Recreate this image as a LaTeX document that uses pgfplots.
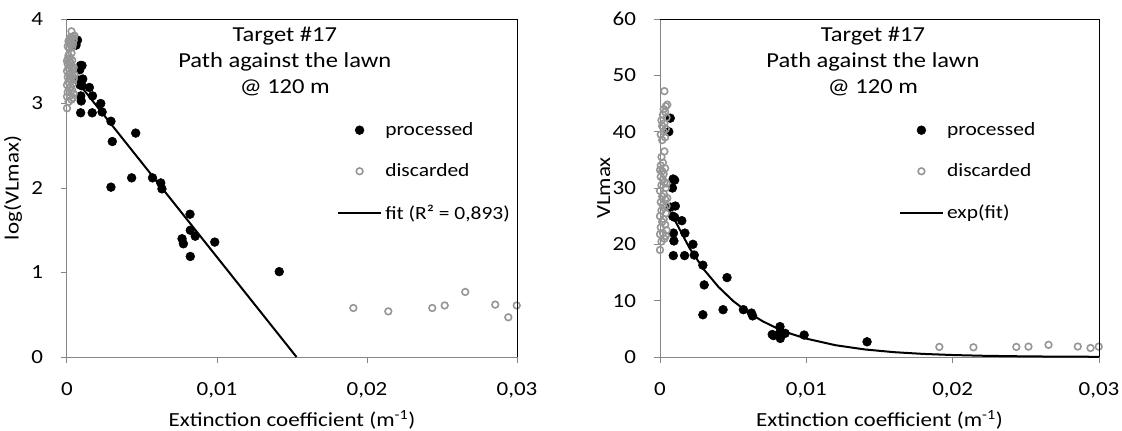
\documentclass[border=0pt]{standalone}
\usepackage{fontspec}
\setmainfont{Carlito}[FakeStretch=1.15]
\usepackage{pgfplots}
\usepackage{pgfplotstable}
\pgfplotsset{compat=1.18}

\definecolor{axisgray}{RGB}{134,134,134}
\definecolor{discgray}{RGB}{150,150,150}

% x = extinction coefficient, lnv = log(VLmax), v = VLmax
\pgfplotstableread{
x lnv v
0.00070 3.75 42.4
0.00060 3.69 40.0
0.00090 3.45 31.6
0.00100 3.45 31.4
0.00085 3.40 30.0
0.00070 3.28 26.6
0.00105 3.29 26.8
0.00087 3.22 25.0
0.00100 3.21 24.8
0.00149 3.19 24.2
0.00170 3.09 22.0
0.00092 3.09 22.0
0.00095 3.03 20.6
0.00225 3.00 20.0
0.00091 2.89 18.0
0.00168 2.89 18.0
0.00234 2.90 18.1
0.00293 2.79 16.3
0.00302 2.55 12.8
0.00458 2.65 14.1
0.00293 2.01 7.5
0.00431 2.12 8.4
0.00570 2.12 8.4
0.00625 2.06 7.8
0.00633 1.99 7.3
0.00820 1.69 5.4
0.00822 1.50 4.5
0.00855 1.43 4.2
0.00767 1.40 4.0
0.00776 1.34 3.8
0.00822 1.19 3.3
0.00985 1.36 3.9
0.01415 1.01 2.7
}\processed

\pgfplotstableread{
x lnv v
0.00000 2.944 19.0
0.00010 3.020 20.5
0.00030 3.045 21.0
0.00040 3.068 21.5
0.00000 3.082 21.8
0.00020 3.091 22.0
0.00045 3.114 22.5
0.00005 3.135 23.0
0.00035 3.157 23.5
0.00015 3.178 24.0
0.00025 3.199 24.5
0.00000 3.219 25.0
0.00040 3.239 25.5
0.00010 3.258 26.0
0.00030 3.277 26.5
0.00045 3.288 26.8
0.00020 3.296 27.0
0.00005 3.314 27.5
0.00035 3.332 28.0
0.00050 3.339 28.2
0.00015 3.350 28.5
0.00025 3.367 29.0
0.00000 3.384 29.5
0.00040 3.401 30.0
0.00010 3.418 30.5
0.00045 3.428 30.8
0.00030 3.434 31.0
0.00020 3.450 31.5
0.00005 3.466 32.0
0.00025 3.481 32.5
0.00015 3.497 33.0
0.00000 3.503 33.2
0.00035 3.512 33.5
0.00005 3.526 34.0
0.00020 3.541 34.5
0.00010 3.570 35.5
0.00030 3.597 36.5
0.00015 3.651 38.5
0.00035 3.664 39.0
0.00005 3.676 39.5
0.00025 3.689 40.0
0.00040 3.701 40.5
0.00015 3.714 41.0
0.00030 3.726 41.5
0.00010 3.738 42.0
0.00045 3.750 42.5
0.00020 3.761 43.0
0.00035 3.773 43.5
0.00025 3.784 44.0
0.00040 3.795 44.5
0.00050 3.802 44.8
0.00030 3.854 47.2
0.01909 0.58 1.79
0.02142 0.54 1.72
0.02435 0.58 1.79
0.02518 0.61 1.84
0.02655 0.77 2.16
0.02855 0.62 1.86
0.02942 0.47 1.60
0.02998 0.61 1.84
}\discarded

\newcommand\txt{\fontsize{15}{18}\selectfont}
\newcommand\lgd{\fontsize{14}{17}\selectfont}
\newcommand\ttl{\fontsize{16}{19}\selectfont}

\pgfplotsset{
  panel/.style={
    scale only axis, height=253.5pt,
    axis lines=left, axis line style={-, draw=axisgray, line width=0.75pt},
    tick align=outside, major tick length=4.5pt,
    tick style={draw=axisgray, line width=0.75pt},
    xmin=0, xmax=0.03, xtick={0,0.01,0.02,0.03},
    xticklabels={0,{0,01},{0,02},{0,03}}, scaled x ticks=false,
    ymin=0, clip=false,
    /pgf/number format/assume math mode=true,
    tick label style={font=\txt},
    xticklabel style={yshift=-11pt},
    yticklabel style={xshift=-10pt},
    xlabel={Extinction coefficient (m\textsuperscript{-1})},
    every axis x label/.style={at={(rel axis cs:0.5,-0.186)}, anchor=center, font=\txt},
    legend style={draw=none, fill=none, inner sep=0pt, row sep=19.6pt, column sep=2.5pt,
      anchor=north west, font=\lgd, nodes={inner sep=0pt}},
    legend cell align=left,
    after end axis/.code={\draw[black, line width=0.75pt]
      (rel axis cs:0,1) -- (rel axis cs:1,1) -- (rel axis cs:1,0);},
  },
  proc/.style={only marks, mark=*, mark size=3.3pt, draw=black, fill=black,
    legend image code/.code={\draw[mark repeat=2,mark phase=2,##1]
      plot coordinates {(0pt,0pt) (16pt,0pt) (32pt,0pt)};}},
  disc/.style={only marks, mark=o, mark size=2.5pt, draw=discgray,
    mark options={line width=1.2pt},
    legend image code/.code={\draw[mark repeat=2,mark phase=2,##1]
      plot coordinates {(0pt,0pt) (16pt,0pt) (32pt,0pt)};}},
  fitline/.style={black, line width=1.5pt, no marks,
    legend image code/.code={\draw[##1] (0pt,0pt) -- (32pt,0pt);}},
}

\begin{document}
\begin{tikzpicture}
\path[use as bounding box] (0,0) rectangle (841.5pt,322.5pt);

\begin{axis}[panel, width=337.5pt, at={(50.25pt,54.75pt)}, anchor=south west,
  ymax=4, ytick={0,1,2,3,4}, ylabel={log(VLmax)},
  every axis y label/.style={at={(rel axis cs:-0.12,0.5)}, rotate=90, anchor=center, font=\txt},
  legend style={at={(rel axis cs:0.6,0.694)}}]
\addplot[proc] table[x=x, y=lnv] {\processed};
\addlegendentry{processed}
\addplot[disc] table[x=x, y=lnv] {\discarded};
\addlegendentry{discarded}
\addplot[fitline] coordinates {(0.00087,3.218) (0.0153,0)};
\addlegendentry{fit (R² = 0,893)}
\node[anchor=base, font=\ttl] at (rel axis cs:0.484,0.932) {Target \#17};
\node[anchor=base, font=\ttl] at (rel axis cs:0.484,0.858) {Path against the lawn};
\node[anchor=base, font=\ttl] at (rel axis cs:0.484,0.781) {@ 120 m};
\end{axis}

\begin{axis}[panel, width=329.25pt, at={(495pt,54.75pt)}, anchor=south west,
  ymax=60, ytick={0,10,20,30,40,50,60}, ylabel={VLmax},
  every axis y label/.style={at={(rel axis cs:-0.128,0.5)}, rotate=90, anchor=center, font=\txt},
  legend style={at={(rel axis cs:0.544,0.694)}}]
\addplot[proc] table[x=x, y=v] {\processed};
\addlegendentry{processed}
\addplot[disc] table[x=x, y=v] {\discarded};
\addlegendentry{discarded}
\addplot[fitline] coordinates {
(0.00087,25.0) (0.002,19.41) (0.003,15.53) (0.004,12.43) (0.005,9.94)
(0.006,7.96) (0.007,6.37) (0.008,5.09) (0.009,4.08) (0.010,3.26)
(0.012,2.09) (0.014,1.34) (0.016,0.856) (0.018,0.548) (0.020,0.351)
(0.022,0.224) (0.024,0.144) (0.026,0.092) (0.028,0.059) (0.030,0.038)};
\addlegendentry{exp(fit)}
\node[anchor=base, font=\ttl] at (rel axis cs:0.485,0.932) {Target \#17};
\node[anchor=base, font=\ttl] at (rel axis cs:0.485,0.858) {Path against the lawn};
\node[anchor=base, font=\ttl] at (rel axis cs:0.485,0.781) {@ 120 m};
\end{axis}
\end{tikzpicture}
\end{document}
